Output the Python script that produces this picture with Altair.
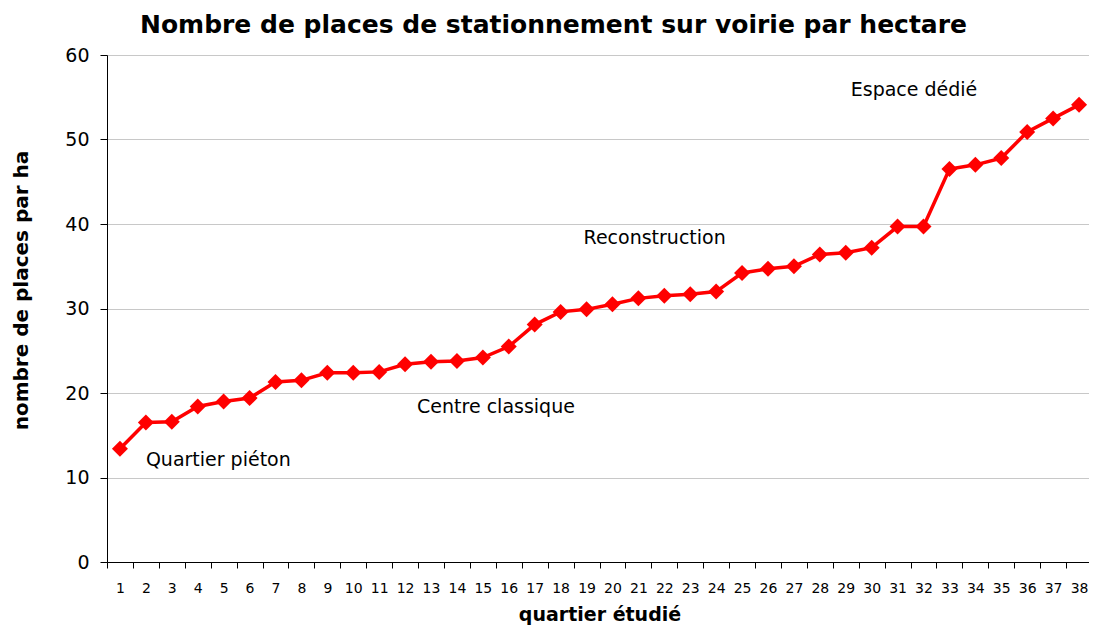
import altair as alt
import pandas as pd

quartiers = list(range(1, 39))
places = [13.4, 16.5, 16.6, 18.4, 19.0, 19.4, 21.3, 21.5, 22.4, 22.4,
          22.5, 23.4, 23.7, 23.8, 24.2, 25.5, 28.1, 29.6, 29.9, 30.5,
          31.2, 31.5, 31.7, 32.0, 34.2, 34.7, 35.0, 36.4, 36.6, 37.2,
          39.7, 39.7, 46.5, 47.0, 47.8, 50.9, 52.5, 54.1]

ann_text = ["Quartier piéton", "Centre classique", "Reconstruction", "Espace dédié"]
ann_q = [2, 12, 19, 29]
ann_dx = [0, 12, -3, 5]
ann_y = [12.1, 18.3, 38.3, 55.9]

FONT = "DejaVu Sans"

df = pd.DataFrame({"q": quartiers, "v": places})

yscale = alt.Scale(domain=[0, 60])
yenc = alt.Y("v:Q", scale=yscale,
             axis=alt.Axis(values=[0, 10, 20, 30, 40, 50, 60], title="nombre de places par ha",
                           titleFont=FONT, titleFontSize=20, titleFontWeight="bold",
                           titleColor="black", titleX=-86, titleY=235,
                           titleAlign="center", titleBaseline="middle", titleAngle=270,
                           labelFont=FONT, labelFontSize=19, labelColor="black",
                           labelPadding=11,
                           domainColor="black", tickColor="black", tickSize=7,
                           gridColor="#c8c8c8", grid=True))

xscale = alt.Scale(type="band", domain=quartiers, paddingInner=0, paddingOuter=0)
xenc = alt.X("q:O", scale=xscale,
             axis=alt.Axis(title="quartier étudié", labelAngle=0, tickBand="extent",
                           titleFont=FONT, titleFontSize=19, titleFontWeight="bold",
                           titleColor="black", titlePadding=10,
                           labelFont=FONT, labelFontSize=14, labelColor="black",
                           labelPadding=13, domainColor="black", tickColor="black",
                           tickSize=6, grid=False))

line = alt.Chart(df).mark_line(color="#ff0000", strokeWidth=3.5).encode(x=xenc, y=yenc)
pts = alt.Chart(df).mark_point(shape="diamond", filled=True, size=256, color="#ff0000", opacity=1).encode(x=xenc, y=yenc)

layers = [line, pts]
for t, q, dx, yv in zip(ann_text, ann_q, ann_dx, ann_y):
    d = pd.DataFrame({"q": [q], "v": [yv], "t": [t]})
    layers.append(alt.Chart(d).mark_text(font=FONT, fontSize=19, color="black", align="left",
                                         baseline="middle", dx=dx).encode(
        x=alt.X("q:O", scale=xscale), y=alt.Y("v:Q", scale=yscale), text="t:N"))

chart = alt.layer(*layers).properties(
    width=985, height=507,
    autosize=alt.AutoSizeParams(type="none"),
    padding={"left": 99, "top": 47, "right": -3, "bottom": 64},
    title=alt.TitleParams("Nombre de places de stationnement sur voirie par hectare",
                          font=FONT, fontSize=25, fontWeight="bold", color="black",
                          anchor="middle", dx=-46, offset=8)
).configure_view(stroke="#c8c8c8")

chart.save("out.html", embed_options={"renderer": "svg", "actions": False})
